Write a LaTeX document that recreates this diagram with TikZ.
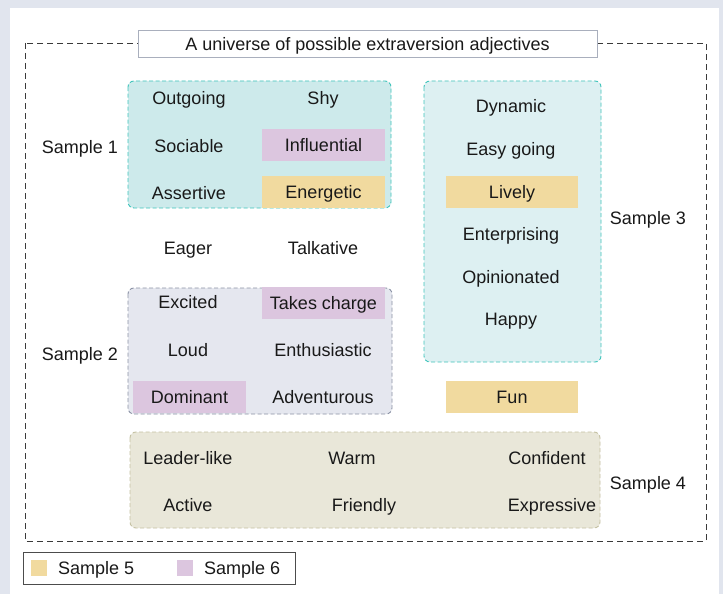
\documentclass[tikz,border=0pt]{standalone}
\usepackage{fontspec}
\setmainfont{Liberation Sans}
\definecolor{pagebg}{HTML}{E1E5EE}
\definecolor{framegray}{HTML}{3A3A3A}
\definecolor{sfive}{HTML}{F1DA9F}
\definecolor{ssix}{HTML}{DCC6DF}
\definecolor{cyanline}{HTML}{3FC4BB}
\definecolor{oneFill}{HTML}{CDEAEB}
\definecolor{threeFill}{HTML}{DDF0F2}
\definecolor{twoFill}{HTML}{E5E7EF}
\definecolor{twoLine}{HTML}{8B92A5}
\definecolor{fourFill}{HTML}{E9E7D9}
\definecolor{fourLine}{HTML}{C5C1A3}
\definecolor{titleLine}{HTML}{A9AFBD}

\begin{document}
\begin{tikzpicture}[x=1pt,y=-1pt]
    \tikzset{%
        Word/.style = {font=\fontsize{18}{21}\selectfont, inner sep=0pt, text=black!90,
                       text height=13pt, text depth=0pt},
        MarkFive/.style = {Word, fill=sfive, minimum height=32pt},
        MarkSix/.style = {Word, fill=ssix, minimum height=32pt},
        Group/.style = {rounded corners=6pt, dash pattern=on 4pt off 2.5pt, line width=0.9pt},
        Swatch/.style = {minimum size=16pt, inner sep=0pt, text height=, text depth=}}
    % page
    \fill[pagebg] (0,0) rectangle (723,594);
    \fill[white] (10,8) rectangle (719,594);
    \draw[framegray, dash pattern=on 6pt off 4pt, line width=0.8pt] (25,43) rectangle (706,541);
    \node[Word, draw=titleLine, fill=white, minimum width=459pt, minimum height=27pt] (title) at (367.5,44) {A universe of possible extraversion adjectives};
    % groups
    \draw[Group, cyanline, fill=oneFill] (128,81) rectangle (391,208);
    \draw[Group, twoLine, fill=twoFill] (128,288) rectangle (392,414);
    \draw[Group, cyanline, fill=threeFill] (424,81) rectangle (601,362);
    \draw[Group, fourLine, fill=fourFill] (130,432) rectangle (600,528);
    % sample 1
    \node[Word] (outgoing) at (189,98) {Outgoing};
    \node[Word] (shy) at (323,98) {Shy};
    \node[Word] (sociable) at (189,146) {Sociable};
    \node[MarkSix, minimum width=123pt] (influential) at (323.5,145) {Influential};
    \node[Word] (assertive) at (189,193) {Assertive};
    \node[MarkFive, minimum width=123pt] (energetic) at (323.5,192) {Energetic};
    \node[Word] (sone) at (80,147) {Sample 1};
    % loose words
    \node[Word] (eager) at (188,248) {Eager};
    \node[Word] (talkative) at (323,248) {Talkative};
    % sample 2
    \node[MarkSix, minimum width=123pt] (takescharge) at (323.5,303) {Takes charge};
    \node[Word] (excited) at (188,302) {Excited};
    \node[Word] (loud) at (188,350) {Loud};
    \node[Word] (enthusiastic) at (323,350) {Enthusiastic};
    \node[MarkSix, minimum width=113pt] (dominant) at (189.5,397) {Dominant};
    \node[Word] (adventurous) at (323,397) {Adventurous};
    \node[Word] (stwo) at (80,354) {Sample 2};
    % sample 3
    \node[Word] (dynamic) at (511,106) {Dynamic};
    \node[Word] (easygoing) at (511,149) {Easy going};
    \node[MarkFive, minimum width=132pt] (lively) at (512,191.5) {Lively};
    \node[Word] (enterprising) at (511,234) {Enterprising};
    \node[Word] (opinionated) at (511,277) {Opinionated};
    \node[Word] (happy) at (511,319) {Happy};
    \node[Word] (sthree) at (648,218) {Sample 3};
    \node[MarkFive, minimum width=132pt] (fun) at (512,397) {Fun};
    % sample 4
    \node[Word] (leaderlike) at (188,458) {Leader-like};
    \node[Word] (warm) at (352,458) {Warm};
    \node[Word] (confident) at (547,458) {Confident};
    \node[Word] (active) at (188,505) {Active};
    \node[Word] (friendly) at (364,505) {Friendly};
    \node[Word] (expressive) at (552,505) {Expressive};
    \node[Word] (sfour) at (648,483) {Sample 4};
    % legend
    \draw[black!70, line width=0.8pt] (23,552) rectangle (295,584);
    \node[Swatch, fill=sfive] (keyfive) at (39,568) {};
    \node[Word, anchor=west] (lfive) at (58,568) {Sample 5};
    \node[Swatch, fill=ssix] (keysix) at (185,568) {};
    \node[Word, anchor=west] (lsix) at (204,568) {Sample 6};
\end{tikzpicture}
\end{document}
